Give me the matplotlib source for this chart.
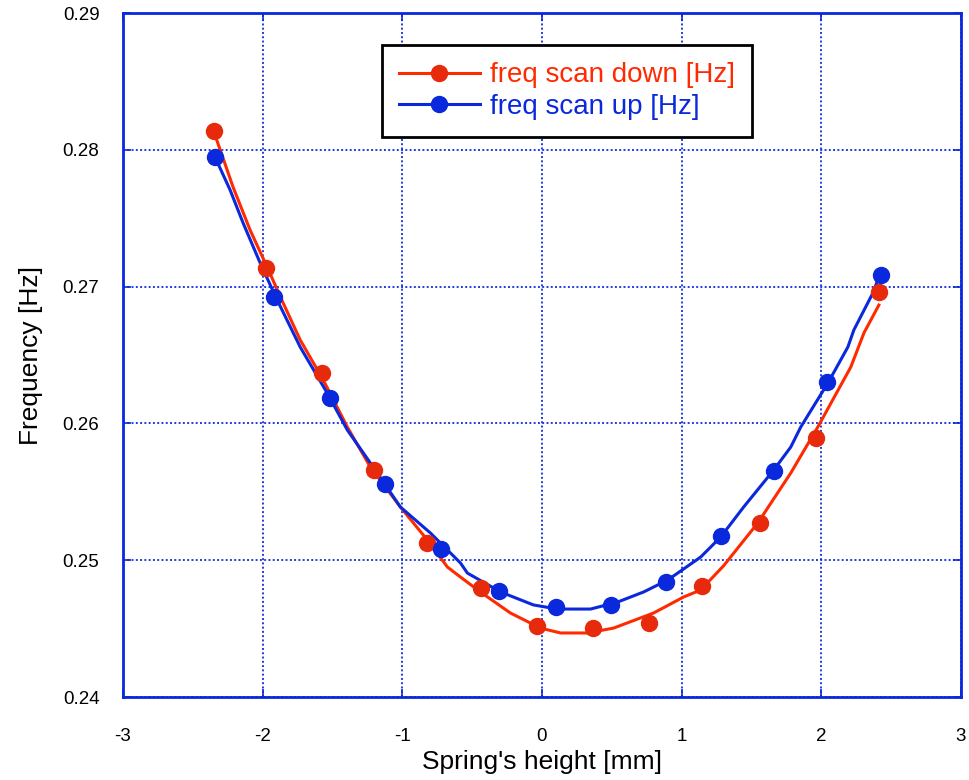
import matplotlib
matplotlib.use("Agg")
import matplotlib.pyplot as plt
from matplotlib.lines import Line2D

plt.rcParams['font.family'] = ['Liberation Sans', 'DejaVu Sans']

# Measured points
down_x = [-2.348, -1.975, -1.573, -1.201, -0.821, -0.434, -0.039, 0.362, 0.763, 1.143, 1.559, 1.960, 2.412]
down_y = [0.28137, 0.27136, 0.26368, 0.25659, 0.25126, 0.24797, 0.24519, 0.24504, 0.24541, 0.24811, 0.25272, 0.25893, 0.26961]
up_x = [-2.341, -1.918, -1.516, -1.122, -0.720, -0.305, 0.097, 0.491, 0.885, 1.280, 1.659, 2.039, 2.427]
up_y = [0.27947, 0.26924, 0.26186, 0.25557, 0.25082, 0.24775, 0.24658, 0.24673, 0.24841, 0.25177, 0.25652, 0.26303, 0.27085]

# Smoothed curves
down_cx = [-2.341, -2.212, -2.090, -1.968, -1.853, -1.731, -1.566, -1.394, -1.229, -1.014, -0.821, -0.677,
           -0.584, -0.441, -0.226, -0.011, 0.133, 0.326, 0.513, 0.799, 1.014, 1.136, 1.301, 1.545, 1.781,
           1.975, 2.211, 2.305, 2.412]
down_cy = [0.28108, 0.27728, 0.27414, 0.27143, 0.26880, 0.26610, 0.26317, 0.25974, 0.25681, 0.25389, 0.25148,
           0.24950, 0.24877, 0.24768, 0.24614, 0.24504, 0.24468, 0.24468, 0.24504, 0.24614, 0.24731, 0.24782,
           0.24960, 0.25272, 0.25637, 0.25974, 0.26412, 0.26661, 0.26865]
up_cx = [-2.341, -2.233, -2.140, -2.018, -1.896, -1.731, -1.538, -1.394, -1.229, -1.014, -0.799, -0.584,
         -0.534, -0.297, -0.061, 0.111, 0.348, 0.541, 0.728, 0.900, 1.136, 1.280, 1.444, 1.659, 1.781,
         1.853, 2.047, 2.190, 2.233, 2.369, 2.412]
up_cy = [0.27947, 0.27706, 0.27465, 0.27173, 0.26902, 0.26558, 0.26222, 0.25952, 0.25711, 0.25389, 0.25199,
         0.24980, 0.24906, 0.24768, 0.24673, 0.24643, 0.24643, 0.24694, 0.24768, 0.24855, 0.25023, 0.25170,
         0.25389, 0.25659, 0.25827, 0.25974, 0.26295, 0.26558, 0.26683, 0.26953, 0.27070]

x_ticks = [-3, -2, -1, 0, 1, 2, 3]
y_ticks = [0.24, 0.25, 0.26, 0.27, 0.28, 0.29]

RED_LINE = '#FF2A00'
RED_MK = '#E82A0C'
BLUE = '#0A28DC'

fig = plt.figure(figsize=(9.7, 7.8), dpi=100)
ax = fig.add_axes([0.1268, 0.1064, 0.8639, 0.8769])

ax.plot(down_cx, down_cy, color=RED_LINE, lw=2.2, zorder=3)
ax.plot(up_cx, up_cy, color=BLUE, lw=2.2, zorder=3)
ax.plot(down_x, down_y, 'o', color=RED_MK, ms=11.5, zorder=4)
ax.plot(up_x, up_y, 'o', color=BLUE, ms=11.5, zorder=4)

ax.set_xlim(-3, 3)
ax.set_ylim(0.24, 0.29)
ax.set_xticks(x_ticks)
ax.set_xticklabels([str(v) for v in x_ticks])
ax.set_yticks(y_ticks)
ax.set_yticklabels([f"{v:.2f}" for v in y_ticks])
ax.grid(True, color=BLUE, linestyle=(0, (1, 1.2)), lw=1.4, alpha=0.9)
ax.set_axisbelow(True)
for s in ax.spines.values():
    s.set_color(BLUE)
    s.set_linewidth(2)
ax.tick_params(axis='both', direction='in', length=6, width=1.2, color=BLUE,
               labelsize=13.5, right=True, top=True)
ax.tick_params(axis='y', pad=17)
ax.tick_params(axis='x', pad=22)
ax.set_xlabel("Spring's height [mm]", fontsize=19, labelpad=4)
ax.set_ylabel("Frequency [Hz]", fontsize=19, labelpad=14)

handles = [Line2D([0], [0], color=RED_LINE, lw=2.2, marker='o', ms=11.5, markerfacecolor=RED_MK, markeredgecolor=RED_MK),
           Line2D([0], [0], color=BLUE, lw=2.2, marker='o', ms=11.5)]
leg = ax.legend(handles, ['freq scan down [Hz]', 'freq scan up [Hz]'], loc='upper left',
                bbox_to_anchor=(0.309, 0.953), borderaxespad=0, fontsize=20, frameon=True,
                fancybox=False, handlelength=2.9, handletextpad=0.36, borderpad=0.62, labelspacing=0.2)
leg.get_frame().set_edgecolor('black')
leg.get_frame().set_linewidth(2)
leg.get_frame().set_alpha(1)
for t, c in zip(leg.get_texts(), [RED_LINE, BLUE]):
    t.set_color(c)

fig.savefig('out.png', dpi=100)
